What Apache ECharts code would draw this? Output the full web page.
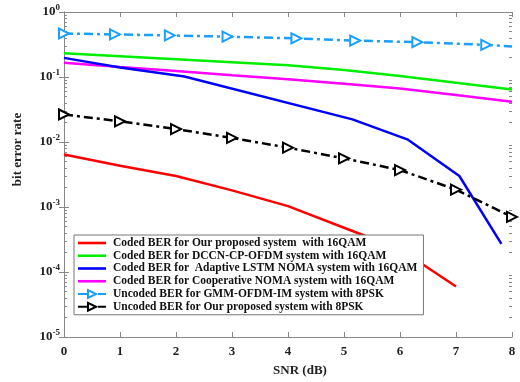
<!DOCTYPE html>
<html>
<head>
<meta charset="utf-8">
<script src="https://cdn.jsdelivr.net/npm/echarts@6/dist/echarts.min.js"></script>
<style>html,body{margin:0;padding:0;background:#fff}#c{width:520px;height:382px}</style>
</head>
<body>
<div id="c"></div>
<script>
// ---- data ----
var seriesNames = [
  'Coded BER for Our proposed system  with 16QAM',
  'Coded BER for DCCN-CP-OFDM system with 16QAM',
  'Coded BER for  Adaptive LSTM NOMA system with 16QAM',
  'Coded BER for Cooperative NOMA system with 16QAM',
  'Uncoded BER for GMM-OFDM-IM system with 8PSK',
  'Uncoded BER for Our proposed system with 8PSK'
];
var snrRed = [0, 1, 2, 3, 4, 5, 6, 7];
var berRed = [0.0064, 0.0043, 0.0030, 0.0018, 0.00103, 0.00048, 0.000224, 0.00006];
var snrGreen = [0, 1, 2, 3, 4, 5, 6, 7, 8];
var berGreen = [0.232, 0.209, 0.188, 0.169, 0.152, 0.128, 0.104, 0.0815, 0.064];
var snrBlue = [0, 1, 2.15, 5.15, 6.13, 7.06, 7.81];
var berBlue = [0.197, 0.140, 0.102, 0.0223, 0.011, 0.0030, 0.00027];
var snrMagenta = [0, 1, 2, 3, 4, 5, 6, 7, 8];
var berMagenta = [0.166, 0.143, 0.124, 0.106, 0.092, 0.0788, 0.0663, 0.053, 0.0416];
var snrCyan = [0, 0.91, 1.89, 2.92, 4.15, 5.2, 6.31, 7.54, 8];
var berCyan = [0.467, 0.452, 0.436, 0.417, 0.393, 0.363, 0.343, 0.312, 0.295];
var cyanMarked = [true, true, true, true, true, true, true, true, false];
var snrBlack = [0, 1, 2, 3, 4, 5, 6, 7, 8];
var berBlack = [0.0265, 0.0208, 0.0158, 0.01156, 0.00818, 0.0056, 0.0037, 0.00185, 0.000703];
var xTicks = [0, 1, 2, 3, 4, 5, 6, 7, 8];
var yDecades = [1e-5, 1e-4, 1e-3, 1e-2, 1e-1, 1];

// ---- build ----
function pairs(xs, ys) { return xs.map(function (x, i) { return [x, ys[i]]; }); }
var minorVals = [];
for (var d = -5; d < 0; d++) for (var m = 2; m <= 9; m++) minorVals.push(m * Math.pow(10, d));

var FONT = 'Liberation Serif';
var AX = '#888888';
var cyanData = pairs(snrCyan, berCyan).map(function (p, i) {
  return cyanMarked[i] ? p : { value: p, symbol: 'none' };
});

function lineSeries(name, data, color) {
  return { name: name, type: 'line', data: data, symbol: 'none', showSymbol: false,
    lineStyle: { color: color, width: 2.5 }, itemStyle: { color: color }, animation: false, z: 2 };
}
function markSeries(name, data, color) {
  return { name: name, type: 'line', data: data, symbol: 'triangle', symbolSize: 10, symbolRotate: -90,
    lineStyle: { color: color, width: 2.5, type: [9, 4, 3, 4] },
    itemStyle: { color: '#ffffff', borderColor: color, borderWidth: 2 }, animation: false, z: 3 };
}

var baseY = { type: 'log', logBase: 10, min: 1e-5, max: 1, splitLine: { show: false } };
function yAx(extra) { return Object.assign({}, baseY, extra); }
var LINE_ICON = 'path://M0,0H28V2.6H0Z';

var option = {
  animation: false,
  grid: { left: 64, right: 8, top: 12, bottom: 37 },
  xAxis: [
    { type: 'value', min: 0, max: 8, interval: 1, position: 'bottom',
      axisLine: { lineStyle: { color: AX, width: 1 } },
      axisTick: { inside: true, length: 5, lineStyle: { color: AX } },
      axisLabel: { margin: 8, color: '#222', fontFamily: FONT, fontWeight: 'bold', fontSize: 13 },
      splitLine: { show: false },
      name: 'SNR (dB)', nameLocation: 'middle', nameGap: 27,
      nameTextStyle: { color: '#222', fontFamily: FONT, fontWeight: 'bold', fontSize: 13, padding: [0, 0, 0, 24] } },
    { type: 'value', min: 0, max: 8, interval: 1, position: 'top',
      axisLine: { lineStyle: { color: AX, width: 1 } },
      axisTick: { inside: true, length: 5, lineStyle: { color: AX } },
      axisLabel: { show: false }, splitLine: { show: false } }
  ],
  yAxis: [
    yAx({ position: 'left', interval: 1,
      axisLine: { show: true, lineStyle: { color: AX, width: 1 } },
      axisTick: { show: true, inside: true, length: 5, lineStyle: { color: AX } },
      axisLabel: { margin: 4, fontFamily: FONT,
        formatter: function (v) { var e = Math.round(Math.log10(v)); return '{b|10}{s|' + e + '}'; },
        rich: { b: { fontSize: 13, fontWeight: 'bold', color: '#222', fontFamily: FONT },
                s: { fontSize: 9, fontWeight: 'bold', color: '#222', fontFamily: FONT, padding: [0, 0, 9, 0] } } },
      name: 'bit error rate', nameLocation: 'middle', nameGap: 40,
      nameTextStyle: { color: '#222', fontFamily: FONT, fontWeight: 'bold', fontSize: 13, padding: [0, 0, 0, 50] } }),
    yAx({ position: 'right', interval: 1,
      axisLine: { show: true, lineStyle: { color: AX, width: 1 } },
      axisTick: { show: true, inside: true, length: 5, lineStyle: { color: AX } },
      axisLabel: { show: false } }),
    yAx({ position: 'left', axisLine: { show: false },
      axisTick: { show: true, inside: true, length: 3, customValues: minorVals, lineStyle: { color: AX } },
      axisLabel: { show: false } }),
    yAx({ position: 'right', axisLine: { show: false },
      axisTick: { show: true, inside: true, length: 3, customValues: minorVals, lineStyle: { color: AX } },
      axisLabel: { show: false } })
  ],
  legend: {
    orient: 'vertical', left: 74, top: 235,
    backgroundColor: '#ffffff', borderColor: '#777777', borderWidth: 1,
    padding: [2, 6, 2, 3], itemWidth: 28, itemHeight: 10, itemGap: 0.75,
    symbolKeepAspect: true,
    textStyle: { fontFamily: FONT, fontWeight: 'bold', fontSize: 11.5, color: '#111', lineHeight: 12, padding: [0, 0, 0, 2] },
    data: [
      { name: seriesNames[0], icon: LINE_ICON },
      { name: seriesNames[1], icon: LINE_ICON },
      { name: seriesNames[2], icon: LINE_ICON },
      { name: seriesNames[3], icon: LINE_ICON },
      { name: seriesNames[4] },
      { name: seriesNames[5] }
    ]
  },
  series: [
    lineSeries(seriesNames[0], pairs(snrRed, berRed), '#ff0000'),
    lineSeries(seriesNames[1], pairs(snrGreen, berGreen), '#00ee00'),
    lineSeries(seriesNames[3], pairs(snrMagenta, berMagenta), '#ff00ff'),
    lineSeries(seriesNames[2], pairs(snrBlue, berBlue), '#0000ff'),
    markSeries(seriesNames[4], cyanData, '#1a9fff'),
    markSeries(seriesNames[5], pairs(snrBlack, berBlack), '#000000')
  ]
};
var chart = echarts.init(document.getElementById('c'), null, { renderer: 'canvas' });
chart.setOption(option);
</script>
</body>
</html>
